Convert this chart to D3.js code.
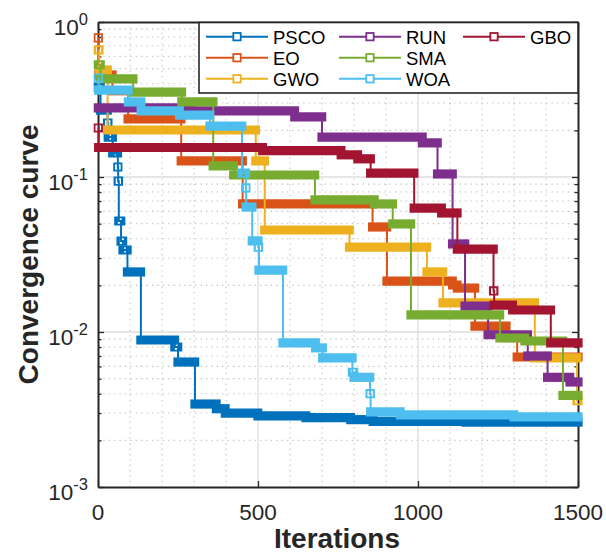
<!DOCTYPE html>
<html>
<head>
<meta charset="utf-8">
<script src="https://cdn.jsdelivr.net/npm/d3@7"></script>
<style>
  body { margin: 0; background: #fff; }
  svg { display: block; }
  text { font-family: "Liberation Sans", Arial, Helvetica, sans-serif; }
</style>
</head>
<body>
<svg id="chart" width="606" height="553"></svg>
<script>
// ---- data: each series is a list of [first iteration of a level, best fitness at that level]
const maxIter = 1500;
const seriesNames = ["PSCO", "EO", "GWO", "RUN", "SMA", "WOA", "GBO"];
const seriesColors = ["#0072BD", "#D95319", "#EDB120", "#7E2F8E", "#77AC30", "#4DBEEE", "#A2142F"];

const psco = [[1,0.38],[8,0.27],[30,0.223],[32,0.181],[46,0.143],[62,0.116],[63,0.094],[65,0.052],[72,0.0386],[78,0.0338],[92,0.0244],
  [134,0.00888],[240,0.0080],[250,0.0064],[303,0.00343],[370,0.0032],[398,0.0030],[500,0.00288],[650,0.0028],[790,0.00272],[860,0.00265],[1150,0.00262]];
const eo = [[1,0.79],[2,0.455],[45,0.36],[94,0.237],[260,0.127],[452,0.067],[858,0.0476],[903,0.0213],[1108,0.0201],[1123,0.0192],
  [1178,0.0109],[1276,0.0092],[1310,0.0069]];
const gwo = [[1,0.66],[4,0.49],[30,0.201],[493,0.127],[521,0.0455],[786,0.0353],[1028,0.0244],[1078,0.0154],[1365,0.0068],[1497,0.0036]];
const run = [[1,0.279],[290,0.267],[615,0.244],[700,0.181],[1014,0.166],[1061,0.1046],[1108,0.037],[1147,0.0147],[1219,0.0096],
  [1343,0.0070],[1405,0.0051],[1475,0.00476]];
const sma = [[1,0.53],[8,0.429],[110,0.353],[262,0.305],[360,0.118],[424,0.103],[678,0.0711],[864,0.067],[921,0.0498],[978,0.0129],
  [1256,0.00915],[1334,0.00875],[1453,0.0039]];
const woa = [[1,0.435],[2,0.364],[95,0.305],[135,0.267],[255,0.251],[350,0.213],[450,0.106],[462,0.085],[463,0.064],[482,0.0387],
  [501,0.0353],[503,0.0251],[578,0.0085],[680,0.0079],[702,0.0068],[795,0.0055],[800,0.0051],[850,0.0040],[852,0.00305],[945,0.00292],[1300,0.00283]];
const gbo = [[1,0.207],[2,0.155],[515,0.148],[760,0.139],[812,0.131],[852,0.106],[988,0.063],[1074,0.0586],[1123,0.0343],[1236,0.0184],
  [1238,0.0149],[1296,0.01387],[1415,0.0085]];

const seriesData = [psco, eo, gwo, run, sma, woa, gbo];

const xTicks = [0, 500, 1000, 1500];
const yTicks = [1e-3, 1e-2, 1e-1, 1];
const xLabel = "Iterations";
const yLabel = "Convergence curve";

// ---- layout
const plot = { left: 98, right: 578, top: 22, bottom: 487 };
const axisColor = "#262626";
const markerOuter = 9.2;   // outer size of a square marker
const markerEdge = 1.8;    // marker edge width
const lineW = 2;

const svg = d3.select("#chart");
svg.append("rect").attr("width", 606).attr("height", 553).attr("fill", "#fff");

const x = d3.scaleLinear().domain([0, maxIter]).range([plot.left, plot.right]);
const y = d3.scaleLog().domain([1e-3, 1]).range([plot.bottom, plot.top]);

// ---- grid
const grid = svg.append("g");
const xMinor = d3.range(100, maxIter, 100).filter(v => v % 500 !== 0);
const yMinor = [];
[1e-3, 1e-2, 1e-1].forEach(d => { for (let k = 2; k <= 9; k++) yMinor.push(d * k); });

grid.selectAll(".gxm").data(xMinor).join("line")
  .attr("x1", d => x(d)).attr("x2", d => x(d)).attr("y1", plot.top).attr("y2", plot.bottom)
  .attr("stroke", "#bcbcbc").attr("stroke-width", 1.1).attr("stroke-dasharray", "1.2,4.2");
grid.selectAll(".gym").data(yMinor).join("line")
  .attr("y1", d => y(d)).attr("y2", d => y(d)).attr("x1", plot.left).attr("x2", plot.right)
  .attr("stroke", "#bcbcbc").attr("stroke-width", 1.1).attr("stroke-dasharray", "1.2,4.2");
grid.selectAll(".gx").data(xTicks.slice(1, -1)).join("line")
  .attr("x1", d => x(d)).attr("x2", d => x(d)).attr("y1", plot.top).attr("y2", plot.bottom)
  .attr("stroke", "#dddddd").attr("stroke-width", 1.3);
grid.selectAll(".gy").data(yTicks.slice(1, -1)).join("line")
  .attr("y1", d => y(d)).attr("y2", d => y(d)).attr("x1", plot.left).attr("x2", plot.right)
  .attr("stroke", "#dddddd").attr("stroke-width", 1.3);

// ---- axes (box with inward ticks)
function styleAxis(g) {
  g.select(".domain").attr("stroke", axisColor).attr("stroke-width", 2);
  g.selectAll(".tick line").attr("stroke", axisColor).attr("stroke-width", 1.3);
  g.selectAll(".tick text").remove();
}
const axes = svg.append("g");
axes.append("g").attr("transform", `translate(0,${plot.bottom})`)
  .call(d3.axisBottom(x).tickValues(xTicks).tickSize(-6).tickSizeOuter(0)).call(styleAxis);
axes.append("g").attr("transform", `translate(0,${plot.top})`)
  .call(d3.axisTop(x).tickValues(xTicks).tickSize(-6).tickSizeOuter(0)).call(styleAxis);
axes.append("g").attr("transform", `translate(${plot.left},0)`)
  .call(d3.axisLeft(y).tickValues(yTicks).tickSize(-6).tickSizeOuter(0)).call(styleAxis);
axes.append("g").attr("transform", `translate(${plot.right},0)`)
  .call(d3.axisRight(y).tickValues(yTicks).tickSize(-6).tickSizeOuter(0)).call(styleAxis);
axes.append("g").attr("transform", `translate(${plot.left},0)`)
  .call(d3.axisLeft(y).tickValues(yMinor).tickSize(-3.5).tickSizeOuter(0)).call(styleAxis)
  .select(".domain").remove();
axes.append("g").attr("transform", `translate(${plot.right},0)`)
  .call(d3.axisRight(y).tickValues(yMinor).tickSize(-3.5).tickSizeOuter(0)).call(styleAxis)
  .select(".domain").remove();

// tick labels
svg.append("g").selectAll("text").data(xTicks).join("text")
  .attr("x", d => x(d)).attr("y", 520).attr("text-anchor", "middle")
  .attr("font-size", 22.5).attr("fill", axisColor).text(d => d);

const yl = svg.append("g").selectAll("text").data(yTicks).join("text")
  .attr("x", 88).attr("y", d => y(d) + 13).attr("text-anchor", "end")
  .attr("font-size", 22.5).attr("fill", axisColor);
yl.append("tspan").text("10");
yl.append("tspan").attr("dy", -10).attr("font-size", 16.5)
  .text(d => { const e = Math.round(Math.log10(d)); return e === 0 ? "0" : "-" + Math.abs(e); });

// axis titles
svg.append("text").attr("x", (plot.left + plot.right) / 2 - 1).attr("y", 548)
  .attr("text-anchor", "middle").attr("font-size", 28).attr("font-weight", "bold")
  .attr("fill", axisColor).text(xLabel);
svg.append("text").attr("transform", `translate(38,${(plot.top + plot.bottom) / 2}) rotate(-90)`)
  .attr("text-anchor", "middle").attr("font-size", 28).attr("font-weight", "bold")
  .attr("fill", axisColor).text(yLabel);

// ---- series: step line plus a square marker at every iteration.
// Consecutive markers on one level merge into a solid band; a level held for
// only a few iterations stays a hollow square.
const line = d3.line().x(d => x(d[0])).y(d => y(d[1])).curve(d3.curveStepAfter);
const ho = markerOuter / 2, hi = markerOuter / 2 - markerEdge;

function levelPath(x0, x1, yc) {
  let p = `M${x0 - ho},${yc - ho}H${x1 + ho}V${yc + ho}H${x0 - ho}Z`;
  if (x1 - x0 < 2 * hi) {
    p += `M${x1 - hi},${yc - hi}H${x0 + hi}V${yc + hi}H${x1 - hi}Z`;
  }
  return p;
}

const seriesG = svg.append("g");
seriesData.forEach((steps, i) => {
  const g = seriesG.append("g");
  const pts = steps.concat([[maxIter, steps[steps.length - 1][1]]]);
  g.append("path").attr("d", line(pts)).attr("fill", "none")
    .attr("stroke", seriesColors[i]).attr("stroke-width", lineW);
  const levels = steps.map((s, k) => ({
    start: s[0],
    end: k < steps.length - 1 ? steps[k + 1][0] - 1 : maxIter,
    value: s[1]
  }));
  g.selectAll("path.lv").data(levels).join("path").attr("class", "lv")
    .attr("d", d => levelPath(x(d.start), x(d.end), y(d.value)))
    .attr("fill", seriesColors[i]).attr("fill-rule", "evenodd");
});

// ---- legend (3 columns, column-major order)
const legend = svg.append("g");
legend.append("rect").attr("x", 199).attr("y", 22.5).attr("width", 379).attr("height", 70.5)
  .attr("fill", "#fff").attr("stroke", axisColor).attr("stroke-width", 1.6);
const colX = [206, 339, 463];
const rowY = [36.7, 57.7, 78.8];
seriesNames.forEach((name, i) => {
  const c = Math.floor(i / 3), r = i % 3;
  const lx = colX[c], ly = rowY[r];
  const item = legend.append("g");
  item.append("line").attr("x1", lx).attr("x2", lx + 62).attr("y1", ly).attr("y2", ly)
    .attr("stroke", seriesColors[i]).attr("stroke-width", lineW);
  item.append("rect").attr("x", lx + 31 - (markerOuter - markerEdge) / 2).attr("y", ly - (markerOuter - markerEdge) / 2)
    .attr("width", markerOuter - markerEdge).attr("height", markerOuter - markerEdge)
    .attr("fill", "#fff").attr("stroke", seriesColors[i]).attr("stroke-width", markerEdge);
  item.append("text").attr("x", lx + 67).attr("y", ly + 6.8).attr("font-size", 18.5)
    .attr("fill", "#000").text(name);
});
</script>
</body>
</html>
